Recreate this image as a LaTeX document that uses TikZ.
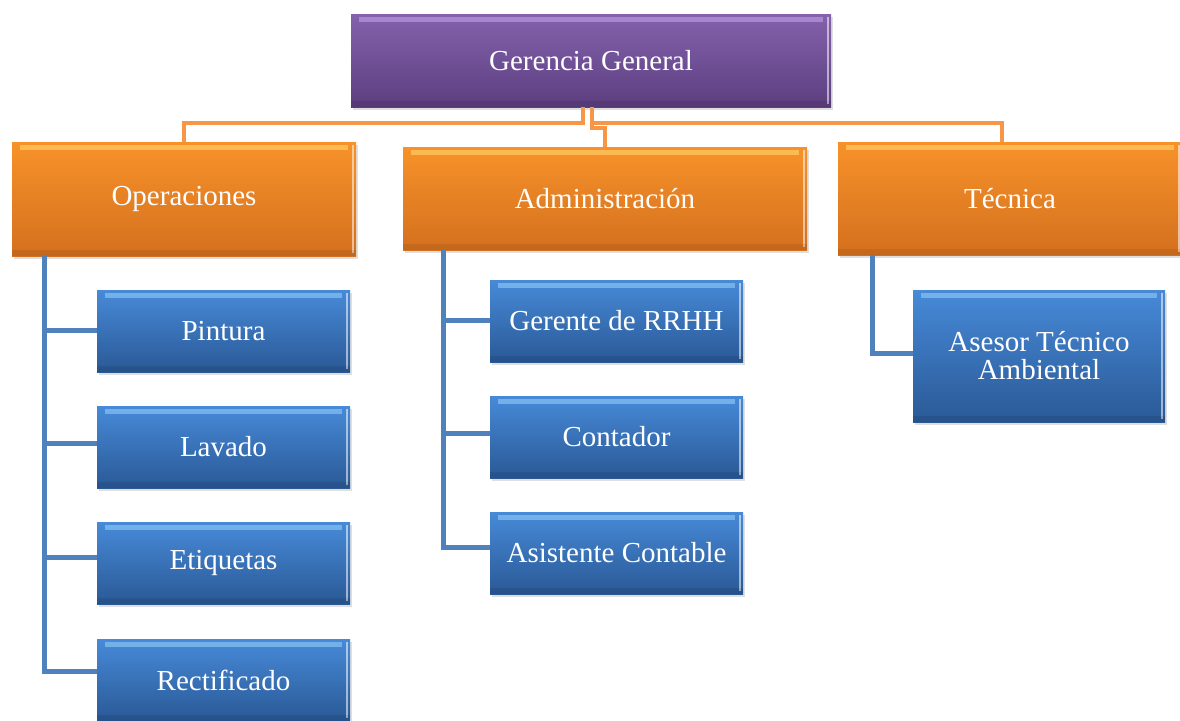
\documentclass[tikz,border=0pt]{standalone}
\usepackage{fontspec}
\setmainfont{Liberation Serif}
\usetikzlibrary{calc,shadows}
\definecolor{ptop}{HTML}{8462AC}
\definecolor{pbot}{HTML}{5C3E80}
\definecolor{phl}{HTML}{C3A2E6}
\definecolor{otop}{HTML}{F7922A}
\definecolor{obot}{HTML}{D4701E}
\definecolor{ohl}{HTML}{FFD86E}
\definecolor{btop}{HTML}{478AD8}
\definecolor{bbot}{HTML}{2A5996}
\definecolor{bhl}{HTML}{93CDF5}
\definecolor{oconn}{HTML}{F79646}
\definecolor{bconn}{HTML}{4F81BD}
\tikzset{
  box/.style={rectangle, inner sep=0pt, text=white, align=center,
    font=\fontsize{29}{28}\selectfont,
    drop shadow={opacity=0.25, shadow xshift=2pt, shadow yshift=-3pt},
    path picture={
      \fill[#1, opacity=0.6] ([xshift=8pt,yshift=-3pt]path picture bounding box.north west)
        rectangle ([xshift=-8pt,yshift=-8pt]path picture bounding box.north east);
      \fill[white, opacity=0.55] ([xshift=-4pt,yshift=-3pt]path picture bounding box.north east)
        rectangle ([xshift=-2pt,yshift=3pt]path picture bounding box.south east);
      \fill[black, opacity=0.08] ([yshift=6pt]path picture bounding box.south west)
        rectangle (path picture bounding box.south east);
    }},
  purplebox/.style={box=phl, top color=ptop, bottom color=pbot},
  orangebox/.style={box=ohl, top color=otop, bottom color=obot},
  bluebox/.style={box=bhl, top color=btop, bottom color=bbot,
    minimum width=253pt, minimum height=82pt},
  oline/.style={draw=oconn, line width=4.5pt},
  bline/.style={draw=bconn, line width=5pt},
}
\begin{document}
\begin{tikzpicture}[x=1pt, y=-1pt]
\useasboundingbox (0,0) rectangle (1180,720);
\fill[white] (0,0) rectangle (1180,720);

% top level
\node[purplebox, minimum width=480pt, minimum height=93pt] (gg) at (591,60.5) {Gerencia General};

% second level
\node[orangebox, minimum width=344pt, minimum height=114pt] (op) at (184,199) {Operaciones};
\node[orangebox, minimum width=404pt, minimum height=103pt] (ad) at (605,198.5) {Administración};
\node[orangebox, minimum width=344pt, minimum height=113pt] (tec) at (1010,198.5) {Técnica};

% third level
\node[bluebox] (pin) at (223.5,331) {Pintura};
\node[bluebox] (lav) at (223.5,447) {Lavado};
\node[bluebox] (eti) at (223.5,563) {Etiquetas};
\node[bluebox] (rec) at (223.5,680) {Rectificado};

\node[bluebox] (grh) at (616.5,321) {Gerente de RRHH};
\node[bluebox] (con) at (616.5,437) {Contador};
\node[bluebox] (asi) at (616.5,553) {Asistente Contable};

\node[bluebox, minimum width=252pt, minimum height=132pt] (ase) at (1039,356) {Asesor Técnico\\Ambiental};

% orange connectors
\coordinate (jl) at (583,123);
\coordinate (jr) at (592,123);
\draw[oline] (op.north) |- (jl) -- (jl |- gg.south);
\draw[oline] ([xshift=-8pt]tec.north) |- (jr) -- (jr |- gg.south);
\draw[oline] (ad.north) |- ([yshift=-5pt]jr) -- (jr);

% blue connectors
\coordinate (t1) at ($(op.south west)+(33,0)$);
\coordinate (t2) at ($(ad.south west)+(41,0)$);
\coordinate (t3) at ($(tec.south west)+(35,0)$);
\draw[bline] (t1) |- ([yshift=1pt]pin.west);
\draw[bline] (t1) |- ([yshift=4pt]lav.west);
\draw[bline] (t1) |- ([yshift=6pt]eti.west);
\draw[bline] (t1) |- ([yshift=9pt]rec.west);
\draw[bline] (t2) |- ([yshift=1pt]grh.west);
\draw[bline] (t2) |- ([yshift=4pt]con.west);
\draw[bline] (t2) |- ([yshift=6pt]asi.west);
\draw[bline] (t3) |- ([yshift=3pt]ase.west);
\end{tikzpicture}
\end{document}
